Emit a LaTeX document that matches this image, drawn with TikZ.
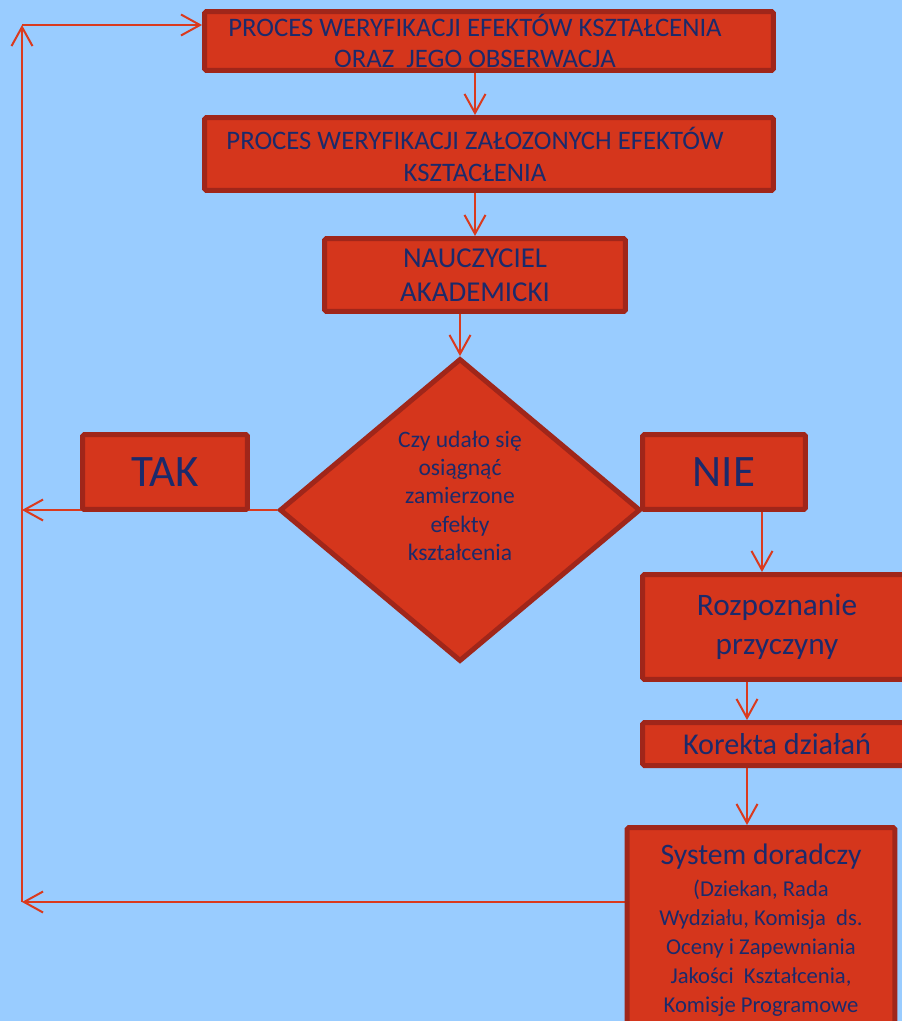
\documentclass[tikz,border=0pt]{standalone}
\usepackage{fontspec}
\setmainfont{Carlito}
\usepackage{xcolor}
\usepackage{tikz}
\usetikzlibrary{shapes.geometric, arrows.meta, positioning, backgrounds}

\definecolor{sky}{HTML}{99CCFF}
\definecolor{boxfill}{HTML}{D5361C}
\definecolor{boxline}{HTML}{A0261A}
\definecolor{linkred}{HTML}{DA3A1E}
\definecolor{navy}{HTML}{1B2A6B}

\newcommand{\pushleft}{\hspace*{0.56cm}}

\begin{document}
\begin{tikzpicture}[x=0.02cm, y=-0.02cm, >={Straight Barb[length=0.38cm, width=0.42cm]}, font=\fontsize{15.2}{17.6}\selectfont]
    \tikzstyle{block} = [draw=boxline, fill=boxfill, rectangle, rounded corners=1pt, line width=0.1cm, text=navy, align=center, inner sep=0pt]
    \tikzstyle{decision} = [block, diamond, rounded corners=0pt, minimum width=7.22cm, minimum height=6.06cm]
    \tikzstyle{answer} = [block, minimum height=1.5cm, font=\fontsize{25.6}{30}\selectfont]
    \tikzstyle{link} = [draw=linkred, line width=0.04cm]

    \useasboundingbox (0,0) rectangle (902,1021);

    \node [block, minimum width=11.38cm, minimum height=1.18cm] (weryf) at (489,41) {PROCES WERYFIKACJI EFEKTÓW KSZTAŁCENIA\pushleft\\ORAZ\ \ JEGO OBSERWACJA\pushleft};
    \node [block, minimum width=11.38cm, minimum height=1.46cm, font=\fontsize{15.2}{18.2}\selectfont] (zalozone) at (489,154) {PROCES WERYFIKACJI ZAŁOZONYCH EFEKTÓW\pushleft\\KSZTACŁENIA\pushleft};
    \node [block, minimum width=6.02cm, minimum height=1.46cm, font=\fontsize{16.4}{19.3}\selectfont] (nauczyciel) at (475,275) {NAUCZYCIEL\\AKADEMICKI};
    \node [decision, font=\fontsize{13.4}{16.2}\selectfont] (czy) at (460,510) {Czy udało się\\osiągnąć\\zamierzone\\efekty\\kształcenia\\[0pt]};
    \node [answer, minimum width=3.3cm] (tak) at (165,472) {TAK};
    \node [answer, minimum width=3.26cm] (nie) at (724,472) {NIE};
    \node [block, minimum width=5.38cm, minimum height=2.1cm, font=\fontsize{17.8}{22.2}\selectfont] (rozpoznanie) at (777,627) {Rozpoznanie\\przyczyny};
    \node [block, minimum width=5.38cm, minimum height=0.86cm, font=\fontsize{17.2}{20}\selectfont] (korekta) at (777,744) {Korekta działań};
    \node [block, minimum width=5.36cm, minimum height=4.1cm, font=\fontsize{12.9}{16.5}\selectfont] (doradczy) at (761,930) {{\fontsize{16.9}{18.2}\selectfont System doradczy}\\[1.7pt](Dziekan, Rada\\Wydziału, Komisja\ \ ds.\\Oceny i Zapewniania\\Jakości\ \ Kształcenia,\\Komisje Programowe};

    \coordinate (gora) at (22,25);
    \coordinate (dol) at (22,902);

    \begin{scope}[on background layer]
    \fill [sky] (0,0) rectangle (902,1021);
    % main flow
    \draw [->, link] (weryf.south -| nauczyciel) -- (zalozone.north -| nauczyciel);
    \draw [->, link] (zalozone.south -| nauczyciel) -- (nauczyciel.north);
    \draw [->, link] (nauczyciel.south -| czy) -- (czy.north);
    % NIE branch
    \draw [->, link] ([xshift=0.76cm]nie.south) -- ([xshift=0.76cm]nie.south |- rozpoznanie.north);
    \draw [->, link] ([xshift=-0.6cm]rozpoznanie.south) -- ([xshift=-0.6cm]rozpoznanie.south |- korekta.north);
    \draw [->, link] ([xshift=-0.6cm]korekta.south) -- ([xshift=-0.6cm]korekta.south |- doradczy.north);
    % return loop
    \draw [->, link] (czy.west) -- (czy.west -| gora);
    \draw [->, link] (doradczy.west |- dol) -- (dol);
    \draw [->, link] (dol) -- (gora);
    \draw [->, link] (gora) -- (weryf.west |- gora);
    \end{scope}
\end{tikzpicture}
\end{document}
